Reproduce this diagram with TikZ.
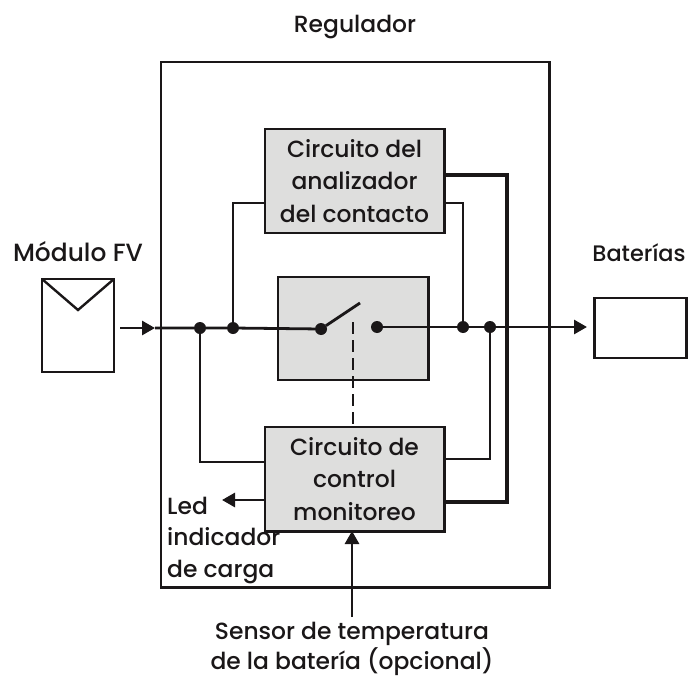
\documentclass[tikz,border=0pt]{standalone}
\usepackage{fontspec}
\setmainfont{Poppins}[UprightFont={* Medium}]
\usetikzlibrary{arrows.meta}
\definecolor{ink}{HTML}{1A1718}
\definecolor{boxgray}{HTML}{DEDEDD}
\tikzset{
  x=1bp,y=-1bp,
  blockbox/.style={draw=ink,fill=boxgray,line width=3pt,inner sep=0pt,outer sep=0pt,anchor=north west,align=center,font=\fontsize{23.5}{32.5}\selectfont,text=ink},
  plainbox/.style={draw=ink,fill=white,line width=3pt,inner sep=0pt,outer sep=0pt,anchor=north west},
  lbl/.style={inner sep=0pt,align=center,font=\fontsize{23.5}{31.5}\selectfont,text=ink},
  wire/.style={draw=ink,line width=2.8pt},
  thickwire/.style={draw=ink,line width=4pt},
  arrowwire/.style={draw=ink,line width=2.8pt,-{Triangle[length=13bp,width=14bp]}},
  joint/.style={circle,fill=ink,minimum size=12bp,inner sep=0pt,outer sep=0pt},
}
\begin{document}
\begin{tikzpicture}
\useasboundingbox (0,0) rectangle (689,676);
\node[plainbox,minimum width=388bp,minimum height=525bp] (reg) at (161,62) {};
\node[blockbox,minimum width=179bp,minimum height=104bp] (top) at (265,129) {Circuito del\\analizador\\del contacto};
\node[blockbox,minimum width=150bp,minimum height=103bp] (sw) at (278,277) {};
\node[blockbox,minimum width=179bp,minimum height=104bp] (bot) at (265,427) {Circuito de\\control\\monitoreo};
\node[plainbox,minimum width=72bp,minimum height=93bp] (mod) at (42,279) {};
\node[plainbox,minimum width=92bp,minimum height=60bp] (bat) at (594,298) {};

\node[lbl] (tReg) at (355,27) {Regulador};
\node[lbl,font=\fontsize{25}{31}\selectfont] (tMod) at (78,252) {Módulo FV};
\node[lbl,font=\fontsize{22.5}{31}\selectfont] (tBat) at (639,253) {Baterías};
\node[lbl,align=left,anchor=north west] (tLed) at (167,497) {Led\\indicador\\de carga};
\node[lbl,font=\fontsize{23.5}{30}\selectfont] (tSen) at (352,648.5) {Sensor de temperatura\\de la batería (opcional)};

\coordinate (v) at (78,310);
\draw[draw=ink,line width=2.4pt] (mod.north west) -- (v) -- (mod.north east);

\coordinate (inS) at (120,328);
\coordinate (inE) at (155,328);
\node[joint] (j1) at (200,328) {};
\node[joint] (j2) at (233,328) {};
\node[joint] (sL) at (321,329) {};
\node[joint] (sR) at (377,327) {};
\node[joint] (j3) at (463,327) {};
\node[joint] (j4) at (490,327) {};
\coordinate (arm) at (360,303);
\coordinate (dashTop) at (353,322);
\coordinate (senS) at (352,617);
\coordinate (ledE) at (222,500);
\coordinate (ledS) at (265,500);

\draw[arrowwire] (inS) -- (inE);
\draw[wire] (inE) -- (j1) -- (j2) -- (sL);
\draw[wire] (sL) -- (arm);
\draw[wire] (sR) -- (j3) -- (j4);
\draw[arrowwire] (j4) -- (587,327);
\draw[wire] (j2) |- (top.west |- 0,203);
\draw[wire] (j1) |- (bot.west |- 0,462);
\draw[wire,line width=2.2pt] (top.east |- 0,203) -| (j3);
\draw[wire,line width=2.2pt] (j4) |- (bot.east |- 0,459);
\draw[thickwire] (top.east |- 0,175) -| (507,502) -- (bot.east |- 0,502);
\draw[draw=ink,line width=2.8pt,dash pattern=on 12bp off 6bp] (dashTop) -- (bot.north -| dashTop);
\draw[arrowwire] (ledS) -- (ledE);
\draw[arrowwire] (senS) -- (bot.south -| senS);
\end{tikzpicture}
\end{document}
